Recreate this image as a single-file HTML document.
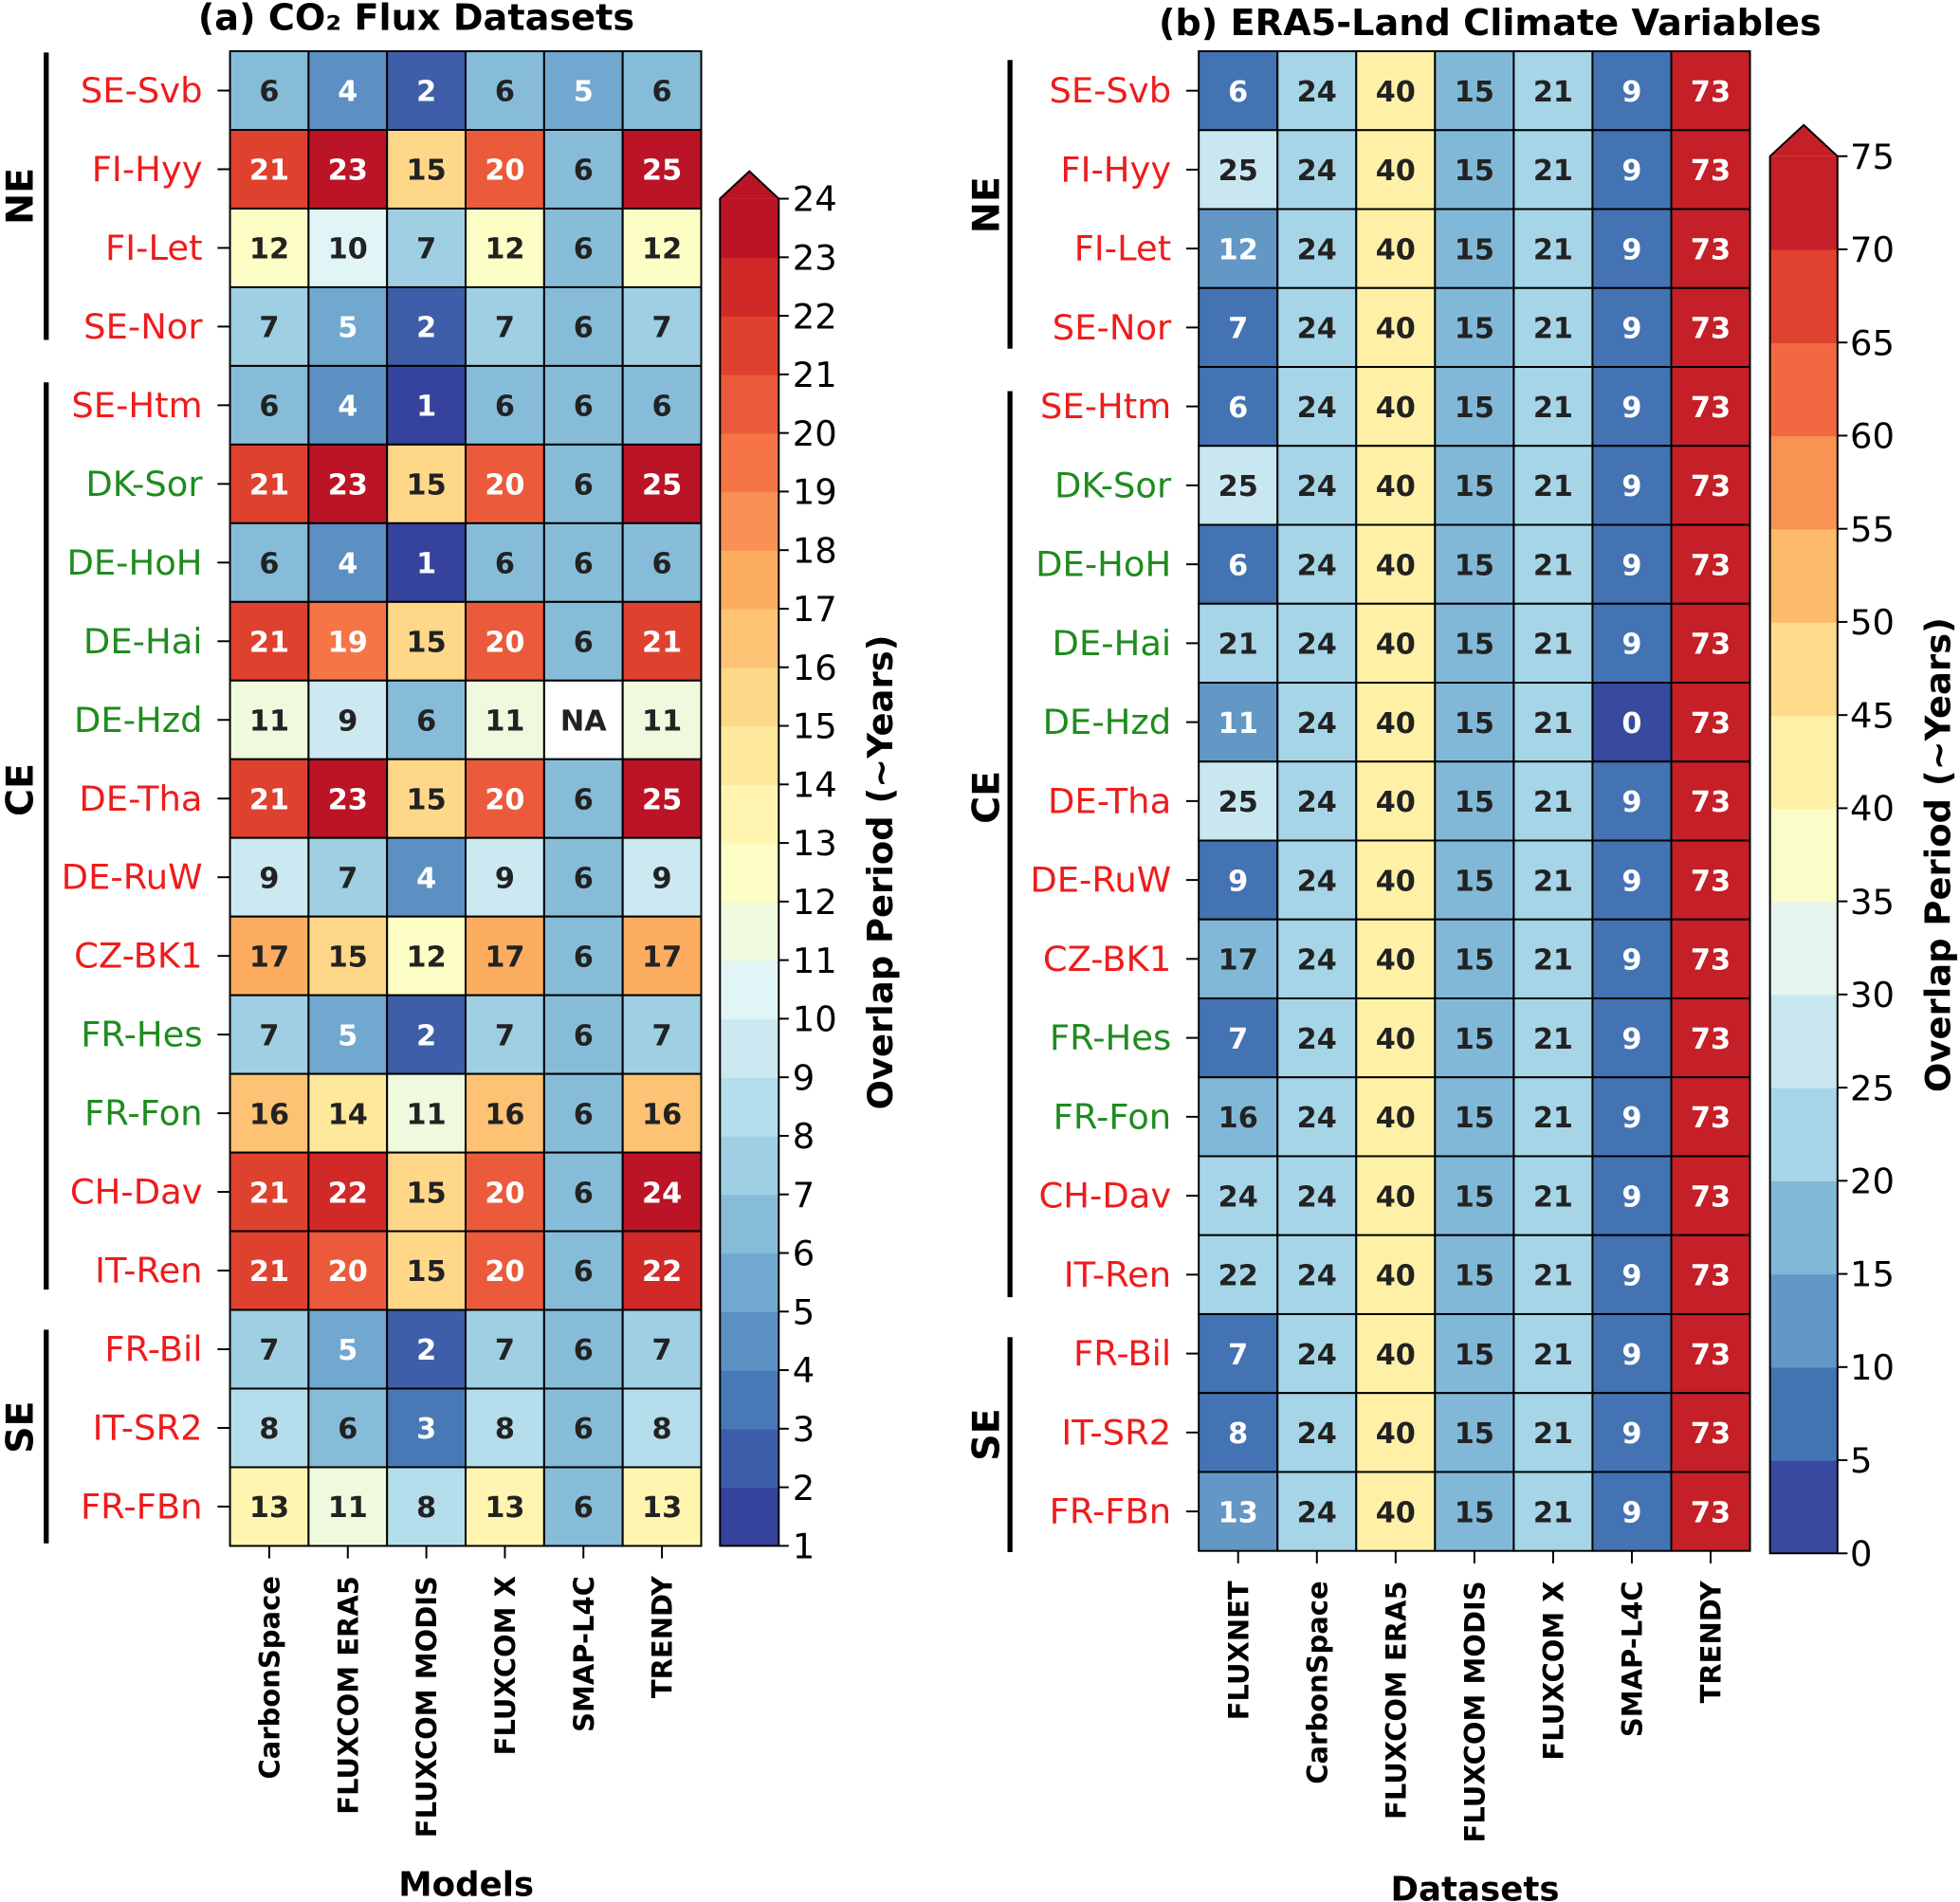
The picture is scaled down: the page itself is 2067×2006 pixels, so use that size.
<!DOCTYPE html>
<html><head><meta charset="utf-8"><style>
html,body{margin:0;padding:0;background:#fff;}
svg{display:block;font-family:"DejaVu Sans","Liberation Sans",sans-serif;}
</style></head><body>
<svg id="chart" xmlns="http://www.w3.org/2000/svg" width="2067" height="2006" viewBox="0 0 1568 1522" preserveAspectRatio="none">
<text x="333" y="24" text-anchor="middle" font-size="29" font-weight="bold">(a) CO₂ Flux Datasets</text>
<text x="1192" y="28" text-anchor="middle" font-size="29" font-weight="bold">(b) ERA5-Land Climate Variables</text>
<text x="373" y="1517" text-anchor="middle" font-size="27" font-weight="bold">Models</text>
<text x="1180" y="1521" text-anchor="middle" font-size="27" font-weight="bold">Datasets</text>
<g id="ga"></g><g id="gb"></g>
</svg>
<script>
const sites = ["SE-Svb","FI-Hyy","FI-Let","SE-Nor","SE-Htm","DK-Sor","DE-HoH","DE-Hai","DE-Hzd","DE-Tha","DE-RuW","CZ-BK1","FR-Hes","FR-Fon","CH-Dav","IT-Ren","FR-Bil","IT-SR2","FR-FBn"];
const greenSites = ["DK-Sor","DE-HoH","DE-Hai","DE-Hzd","FR-Hes","FR-Fon"];
const modelsA = ["CarbonSpace","FLUXCOM ERA5","FLUXCOM MODIS","FLUXCOM X","SMAP-L4C","TRENDY"];
const valuesA = [
[6,4,2,6,5,6],[21,23,15,20,6,25],[12,10,7,12,6,12],[7,5,2,7,6,7],[6,4,1,6,6,6],
[21,23,15,20,6,25],[6,4,1,6,6,6],[21,19,15,20,6,21],[11,9,6,11,null,11],[21,23,15,20,6,25],
[9,7,4,9,6,9],[17,15,12,17,6,17],[7,5,2,7,6,7],[16,14,11,16,6,16],[21,22,15,20,6,24],
[21,20,15,20,6,22],[7,5,2,7,6,7],[8,6,3,8,6,8],[13,11,8,13,6,13]];
const datasetsB = ["FLUXNET","CarbonSpace","FLUXCOM ERA5","FLUXCOM MODIS","FLUXCOM X","SMAP-L4C","TRENDY"];
const fluxnetB = [6,25,12,7,6,25,6,21,11,25,9,17,7,16,24,22,7,8,13];
const smapB = [9,9,9,9,9,9,9,9,0,9,9,9,9,9,9,9,9,9,9];
const constB = [24,40,15,21];
const trendyB = [73,73,73,73,73,73,73,73,73,73,73,73,73,73,73,73,73,73,73];
const ticksA = [1,2,3,4,5,6,7,8,9,10,11,12,13,14,15,16,17,18,19,20,21,22,23,24];
const ticksB = [0,5,10,15,20,25,30,35,40,45,50,55,60,65,70,75];
const groupsA = [["NE",0,3],["CE",4,15],["SE",16,18]];

const NS="http://www.w3.org/2000/svg";
const anchors=['#313695','#4575b4','#74add1','#abd9e9','#e0f3f8','#ffffbf','#fee090','#fdae61','#f46d43','#d73027','#a50026'];
function hex(h){return [1,3,5].map(i=>parseInt(h.substr(i,2),16));}
function cmap(t){t=Math.max(0,Math.min(1,t));const p=t*10,i=Math.min(9,Math.floor(p)),f=p-i;const a=hex(anchors[i]),b=hex(anchors[i+1]);return a.map((v,k)=>Math.round(v+(b[k]-v)*f));}
function rgb(c){return `rgb(${c[0]},${c[1]},${c[2]})`;}
function lum(c){const l=c.map(v=>{v/=255;return v<=0.03928?v/12.92:Math.pow((v+0.055)/1.055,2.4);});return 0.2126*l[0]+0.7152*l[1]+0.0722*l[2];}
function el(tag,attrs,parent,txt){const e=document.createElementNS(NS,tag);for(const k in attrs)e.setAttribute(k,attrs[k]);if(txt!==undefined)e.textContent=txt;parent.appendChild(e);return e;}
function binT(i,n){return (i+0.5)/(n+0.5);}
function binColor(v,lo,step,n){if(v===null)return [255,255,255];let i=Math.floor((v-lo)/step);if(i>=n)i=n-1;if(i<0)i=0;return cmap(binT(i,n));}

function panel(g,cfg){
 const {x0,y0,cw,rh,cols,getVal,lo,step,n,cb,groupX,groupLabelX,groupSpans,pfx}=cfg;
 const nr=sites.length;
 for(let r=0;r<nr;r++)for(let c=0;c<cols.length;c++){
  const v=getVal(r,c);const col=binColor(v,lo,step,n);
  const rc=el('rect',{x:x0+c*cw,y:y0+r*rh,width:cw,height:rh,fill:rgb(col),stroke:'#000','stroke-width':1.5},g);
  
  
  const t=el('text',{x:x0+(c+0.5)*cw,y:y0+(r+0.5)*rh+8.5,'text-anchor':'middle','font-size':23,'font-weight':'bold',fill:(v!==null&&lum(col)<=0.408)?'#fff':'#222'},g,v===null?'NA':String(v));
  
  
 }
 for(let r=0;r<nr;r++){
  const y=y0+(r+0.5)*rh;
  el('line',{x1:x0-10,x2:x0,y1:y,y2:y,stroke:'#000','stroke-width':1.5},g);
  const t=el('text',{x:x0-22,y:y+9.5,'text-anchor':'end','font-size':28,fill:greenSites.includes(sites[r])?'#1e8c1e':'#ee1c1c'},g,sites[r]);
  
  
 }
 cols.forEach((name,c)=>{
  const x=x0+(c+0.5)*cw, yb=y0+nr*rh;
  el('line',{x1:x,x2:x,y1:yb,y2:yb+10,stroke:'#000','stroke-width':1.5},g);
  const t=el('text',{x:x+8,y:yb+24,'text-anchor':'end','font-size':22,'font-weight':'bold',transform:`rotate(-90 ${x+8} ${yb+24})`},g,name);
  
  
 });
 groupsA.forEach(([lab],k)=>{
  const [ya,yb,ym]=groupSpans[k];
  const ln=el('line',{x1:groupX,x2:groupX,y1:ya,y2:yb,stroke:'#000','stroke-width':4},g);
  
  
  const t=el('text',{x:groupLabelX,y:ym,'text-anchor':'middle','font-size':30,'font-weight':'bold',transform:`rotate(-90 ${groupLabelX} ${ym})`},g,lab);
  
  
 });
 const {x,w,yLo,yHi,vLo,vHi,tip,ticks,labX,titleX}=cb;
 const ys=v=>yLo-(v-vLo)/(vHi-vLo)*(yLo-yHi);
 for(let i=0;i<n;i++){
  const a=lo+i*step,b=a+step;
  const rc=el('rect',{x:x,y:ys(b),width:w,height:ys(a)-ys(b)+0.5,fill:rgb(cmap(binT(i,n)))},g);
  
  
 }
 el('polygon',{points:`${x},${yHi} ${x+w/2},${tip} ${x+w},${yHi}`,fill:rgb(cmap(binT(n-1,n)))},g);
 el('polygon',{points:`${x},${yLo} ${x},${yHi} ${x+w/2},${tip} ${x+w},${yHi} ${x+w},${yLo}`,fill:'none',stroke:'#000','stroke-width':1.5},g);
 ticks.forEach(v=>{
  const y=ys(v);
  el('line',{x1:x+w,x2:x+w+8,y1:y,y2:y,stroke:'#000','stroke-width':1.5},g);
  const t=el('text',{x:labX,y:y+10,'font-size':28},g,String(v));
  
  
 });
 const ym=(yLo+yHi)/2;
 const t=el('text',{x:titleX,y:ym,'text-anchor':'middle','font-size':28,'font-weight':'bold',transform:`rotate(-90 ${titleX} ${ym})`},g,'Overlap Period (~Years)');
 
 
}
const ga=document.getElementById('ga'), gb=document.getElementById('gb');




panel(ga,{pfx:'a',x0:184,y0:41,cw:62.83,rh:62.95,cols:modelsA,getVal:(r,c)=>valuesA[r][c],lo:1,step:1,n:23,groupX:37,groupLabelX:26,
 groupSpans:[[42,272,157],[306,1032,632],[1064,1235,1142]],
 cb:{x:576,w:47,yLo:1237,yHi:159,vLo:1,vHi:24,tip:137,ticks:ticksA,labX:634,titleX:714}});
panel(gb,{pfx:'b',x0:959,y0:41,cw:63,rh:63.16,cols:datasetsB,getVal:(r,c)=>c===0?fluxnetB[r]:c===5?smapB[r]:c===6?trendyB[r]:constB[c-1],lo:0,step:5,n:15,groupX:808,groupLabelX:799,
 groupSpans:[[48,279,164],[313,1038,638],[1070,1242,1148]],
 cb:{x:1416,w:54,yLo:1243,yHi:125,vLo:0,vHi:75,tip:100,ticks:ticksB,labX:1480,titleX:1560}});
</script>
</body></html>
